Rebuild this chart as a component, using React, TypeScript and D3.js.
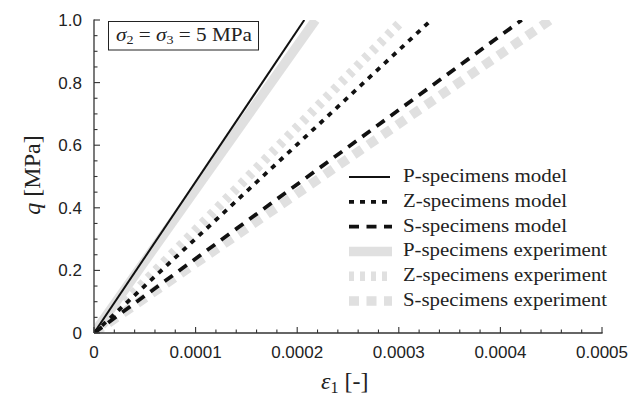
import React from "react";
import * as d3 from "d3";

const W = 634;
const H = 407;

// strain at which each curve reaches q = 1.0 MPa (lines start at origin)
const seriesNames = [
  "P-specimens model",
  "Z-specimens model",
  "S-specimens model",
  "P-specimens experiment",
  "Z-specimens experiment",
  "S-specimens experiment",
];
const seriesStrain = [
  [0, 0.000207],
  [0, 0.000332],
  [0, 0.000421],
  [0, 0.000218],
  [0, 0.000304],
  [0, 0.000449],
];
const seriesStress = [0, 1.0];

const xTickValues = [0, 0.0001, 0.0002, 0.0003, 0.0004, 0.0005];
const xTickLabels = ["0", "0.0001", "0.0002", "0.0003", "0.0004", "0.0005"];
const yTickValues = [0, 0.2, 0.4, 0.6, 0.8, 1.0];
const yTickLabels = ["0", "0.2", "0.4", "0.6", "0.8", "1.0"];

const GRAY = "#e0e0e0";
const styles = [
  { stroke: "#111", width: 2, dash: "" },
  { stroke: "#111", width: 3.8, dash: "5,6" },
  { stroke: "#111", width: 3.8, dash: "10,7.5" },
  { stroke: GRAY, width: 9.5, dash: "" },
  { stroke: GRAY, width: 9.5, dash: "5,6" },
  { stroke: GRAY, width: 9.5, dash: "10,7.5" },
];
const drawOrder = [3, 4, 5, 0, 1, 2];

export default function App() {
  const x = d3.scaleLinear().domain([0, 0.0005]).range([94, 602]);
  const y = d3.scaleLinear().domain([0, 1]).range([333, 20]);
  const line = d3
    .line<[number, number]>()
    .x((d) => x(d[0]))
    .y((d) => y(d[1]));

  const xMinor = d3.range(0, 26).map((i) => i * 0.00002);
  const yMinor = d3.range(0, 21).map((i) => i * 0.05);
  const axisColor = "#333";
  const sans = "'Liberation Sans', Arial, sans-serif";
  const serif = "'Liberation Serif', 'Times New Roman', serif";

  const legendX0 = 349;
  const legendX1 = 392;
  const legendY0 = 177;
  const legendDy = 24.8;

  return (
    <svg
      width={W}
      height={H}
      style={{ position: "absolute", left: 0, top: 0, background: "#fff" }}
    >
      <defs>
        <clipPath id="plotClip">
          <rect x={x(0)} y={y(1)} width={x(0.0005) - x(0)} height={y(0) - y(1)} />
        </clipPath>
      </defs>
      <rect x={0} y={0} width={W} height={H} fill="#fff" />

      <g clipPath="url(#plotClip)">
        {drawOrder.map((i) => {
          const pts = seriesStrain[i].map((e, k) => [e, seriesStress[k]] as [number, number]);
          return (
            <path
              key={i}
              d={line(pts) || ""}
              fill="none"
              stroke={styles[i].stroke}
              strokeWidth={styles[i].width}
              strokeDasharray={styles[i].dash || undefined}
            />
          );
        })}
      </g>

      {/* axes */}
      <line x1={x(0)} x2={x(0.0005) + 0.6} y1={y(0)} y2={y(0)} stroke={axisColor} strokeWidth={1.3} />
      <line x1={x(0)} x2={x(0)} y1={y(0)} y2={y(1) - 0.6} stroke={axisColor} strokeWidth={1.3} />
      {xMinor.map((v, i) => {
        const major = i % 5 === 0;
        return (
          <line
            key={"xt" + i}
            x1={x(v)}
            x2={x(v)}
            y1={y(0)}
            y2={y(0) - (major ? 6 : 3.5)}
            stroke={axisColor}
            strokeWidth={1.1}
          />
        );
      })}
      {yMinor.map((v, i) => {
        const major = i % 4 === 0;
        return (
          <line
            key={"yt" + i}
            x1={x(0)}
            x2={x(0) + (major ? 6 : 3.5)}
            y1={y(v)}
            y2={y(v)}
            stroke={axisColor}
            strokeWidth={1.1}
          />
        );
      })}
      {xTickValues.map((v, i) => (
        <text
          key={"xl" + i}
          x={x(v)}
          y={358}
          textAnchor="middle"
          fontFamily={sans}
          fontSize={17}
          fill="#222"
        >
          {xTickLabels[i]}
        </text>
      ))}
      {yTickValues.map((v, i) => (
        <text
          key={"yl" + i}
          x={82}
          y={y(v) + 6}
          textAnchor="end"
          fontFamily={sans}
          fontSize={17}
          fill="#222"
        >
          {yTickLabels[i]}
        </text>
      ))}

      {/* axis titles */}
      <text x={321} y={389} fontFamily={serif} fontSize={24} fill="#222">
        <tspan fontStyle="italic">ε</tspan>
        <tspan fontSize={16} dy={4}>1</tspan>
        <tspan dy={-4}> [-]</tspan>
      </text>
      <text
        transform="translate(40,175) rotate(-90)"
        textAnchor="middle"
        fontFamily={serif}
        fontSize={24}
        fill="#222"
      >
        <tspan fontStyle="italic">q</tspan>
        <tspan> [MPa]</tspan>
      </text>

      {/* annotation box */}
      <rect x={108.5} y={21.5} width={150} height={28.5} fill="#fff" stroke="#222" strokeWidth={1} />
      <text
        x={116}
        y={41}
        fontFamily={serif}
        fontSize={18}
        fill="#222"
        textLength={136}
        lengthAdjust="spacingAndGlyphs"
      >
        <tspan fontStyle="italic">σ</tspan>
        <tspan fontSize={12} dy={3}>2</tspan>
        <tspan dy={-3}> = </tspan>
        <tspan fontStyle="italic">σ</tspan>
        <tspan fontSize={12} dy={3}>3</tspan>
        <tspan dy={-3}> = 5 MPa</tspan>
      </text>

      {/* legend */}
      {seriesNames.map((name, i) => {
        const yy = legendY0 + i * legendDy;
        return (
          <g key={"lg" + i}>
            <line
              x1={legendX0}
              x2={i === 0 ? 390 : legendX1}
              y1={yy}
              y2={yy}
              stroke={styles[i].stroke}
              strokeWidth={i === 0 ? 2.2 : styles[i].width}
              strokeDasharray={styles[i].dash || undefined}
            />
            <text
              x={403}
              y={yy + 5}
              fontFamily={serif}
              fontSize={18.5}
              fill="#222"
              textLength={i < 3 ? 164 : 204}
              lengthAdjust="spacingAndGlyphs"
            >
              {name}
            </text>
          </g>
        );
      })}
    </svg>
  );
}
